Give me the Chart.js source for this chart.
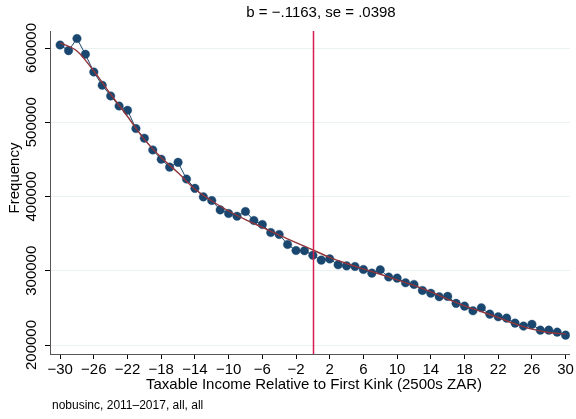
<!DOCTYPE html>
<html>
<head>
<meta charset="utf-8">
<script src="https://cdn.jsdelivr.net/npm/chart.js@4/dist/chart.umd.min.js"></script>
<style>
  body { margin: 0; background: #fff; }
  canvas { display: block; }
</style>
</head>
<body>
<canvas id="chart" width="576" height="419"></canvas>
<script>
// bins (2500s ZAR relative to first kink)
var binX = [-30, -29, -28, -27, -26, -25, -24, -23, -22, -21, -20, -19, -18, -17, -16, -15,
            -14, -13, -12, -11, -10, -9, -8, -7, -6, -5, -4, -3, -2, -1, 0,
            1, 2, 3, 4, 5, 6, 7, 8, 9, 10, 11, 12, 13, 14, 15,
            16, 17, 18, 19, 20, 21, 22, 23, 24, 25, 26, 27, 28, 29, 30];
var frequency = [604000, 596500, 612700, 591500, 567700, 549800, 535400, 521900, 516100, 491500,
                 478500, 462700, 450200, 439600, 446000, 423500, 411000, 399500, 394600, 382000,
                 377100, 373500, 379800, 367700, 362300, 351500, 348900, 335400, 327300, 327000,
                 320800, 314300, 316000, 308000, 306600, 305800, 301700, 296800, 301300, 291500,
                 290100, 283800, 281600, 273500, 269700, 265000, 265500, 256100, 252400, 246100,
                 250100, 241600, 238000, 236200, 229500, 225500, 227800, 220000, 220000, 217300,
                 213300];

// counterfactual polynomial fit
var fitX = [-30, -28, -26, -24, -22, -20, -18, -16, -14, -12, -10, -8, -6, -4, -2, 0,
            2, 4, 6, 8, 10, 12, 14, 16, 18, 20, 22, 24, 26, 28, 30];
var fitFrequency = [607000, 596000, 569000, 537700, 507700, 477000, 452500, 432000, 410000, 394000,
                    380500, 369000, 358500, 348000, 338000, 328000, 318000, 309800, 302500, 295300,
                    287800, 280300, 271500, 261800, 252800, 245000, 237000, 228500, 221400, 216900,
                    214700];

var kinkX = 0;
var xTicks = [-30, -26, -22, -18, -14, -10, -6, -2, 2, 6, 10, 14, 18, 22, 26, 30];
var yTicks = [200000, 300000, 400000, 500000, 600000];

var titleText = "b = \u2212.1163, se = .0398";
var xTitle = "Taxable Income Relative to First Kink (2500s ZAR)";
var yTitle = "Frequency";
var noteText = "nobusinc, 2011\u20132017, all, all";

var FONT = "'Liberation Sans', Arial, Helvetica, sans-serif";
var navy = "#1a476f";
var maroon = "#90353b";

function minusFmt(v) {
    return v < 0 ? "\u2212" + Math.abs(v) : String(v);
}

var textPlugin = {
    id: "textPlugin",
    afterDatasetsDraw: function(chart) {
        var ctx = chart.ctx;
        var area = chart.chartArea;
        var xs = chart.scales.x;

        // kink line
        var kx = Math.round(xs.getPixelForValue(kinkX)) + 0.5;
        ctx.save();
        ctx.strokeStyle = "#d81e50";
        ctx.lineWidth = 1.5;
        ctx.beginPath();
        ctx.moveTo(kx, area.top);
        ctx.lineTo(kx, area.bottom);
        ctx.stroke();
        ctx.restore();
    },
    afterDraw: function(chart) {
        var ctx = chart.ctx;
        var ys = chart.scales.y;
        ctx.save();
        ctx.fillStyle = "#000";

        // y tick labels, rotated
        ctx.font = "15px " + FONT;
        ctx.textAlign = "center";
        ctx.textBaseline = "middle";
        yTicks.forEach(function(v) {
            var py = ys.getPixelForValue(v);
            ctx.save();
            ctx.translate(32, py);
            ctx.rotate(-Math.PI / 2);
            ctx.fillText(String(v), 0, 0);
            ctx.restore();
        });

        // y title
        ctx.save();
        ctx.translate(15, 178);
        ctx.rotate(-Math.PI / 2);
        ctx.fillText(yTitle, 0, 0);
        ctx.restore();

        // title + x title
        ctx.fillText(titleText, 321, 13);
        ctx.fillText(xTitle, 314, 385);

        // note
        ctx.font = "12px " + FONT;
        ctx.textAlign = "left";
        ctx.fillText(noteText, 52, 406);
        ctx.restore();
    }
};

var scatterData = binX.map(function(x, i) { return { x: x, y: frequency[i] }; });
var fitData = fitX.map(function(x, i) { return { x: x, y: fitFrequency[i] }; });

new Chart(document.getElementById("chart"), {
    type: "scatter",
    data: {
        datasets: [{
            label: "Frequency",
            data: scatterData,
            showLine: true,
            borderColor: navy,
            borderWidth: 1,
            backgroundColor: navy,
            pointBackgroundColor: navy,
            pointBorderColor: "rgba(26,71,111,0.45)",
            pointRadius: 4.3,
            pointBorderWidth: 0.8,
            order: 2
        }, {
            label: "Fit",
            data: fitData,
            showLine: true,
            borderColor: maroon,
            borderWidth: 1.4,
            pointRadius: 0,
            cubicInterpolationMode: "monotone",
            order: 1
        }]
    },
    options: {
        responsive: false,
        animation: false,
        layout: { padding: { top: 31, right: 3, left: 0, bottom: 0 } },
        plugins: {
            legend: { display: false },
            tooltip: { enabled: false }
        },
        scales: {
            x: {
                type: "linear",
                min: -31.2,
                max: 30.5,
                afterBuildTicks: function(s) { s.ticks = xTicks.map(function(v) { return { value: v }; }); },
                afterFit: function(s) { s.height = 65; },
                ticks: {
                    callback: minusFmt,
                    color: "#000",
                    font: { family: FONT, size: 15 },
                    padding: 2,
                    maxRotation: 0,
                    autoSkip: false
                },
                grid: { drawOnChartArea: false, tickLength: 5, tickColor: "#000" },
                border: { color: "#555", width: 1 }
            },
            y: {
                min: 187900,
                max: 622900,
                afterBuildTicks: function(s) { s.ticks = yTicks.map(function(v) { return { value: v }; }); },
                afterFit: function(s) { s.width = 50; },
                ticks: { display: false },
                grid: { color: "#e9f1f3", tickLength: 5, tickColor: "#000" },
                border: { color: "#555", width: 1 }
            }
        }
    },
    plugins: [textPlugin]
});
</script>
</body>
</html>
